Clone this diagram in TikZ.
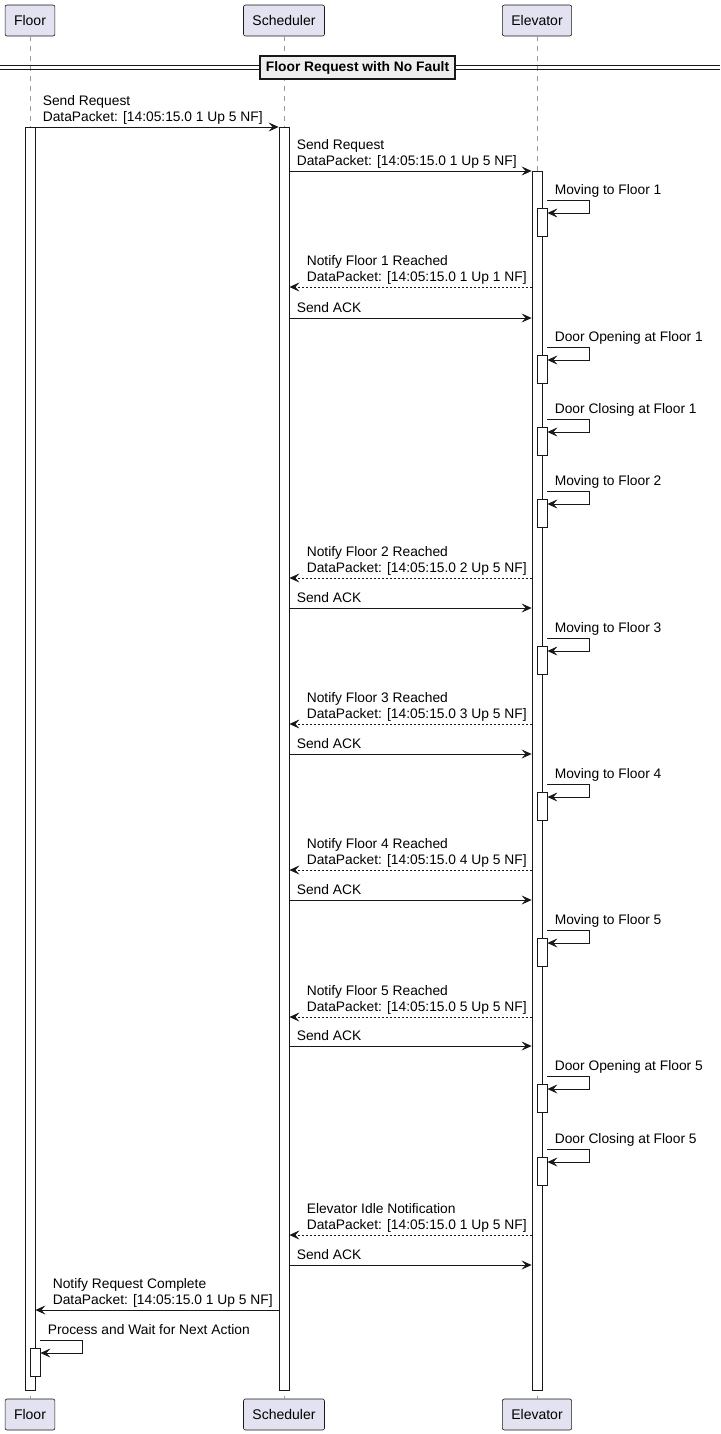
\documentclass[tikz,border=0pt]{standalone}
\usepackage{fontspec}
\setmainfont{Liberation Sans}
\usetikzlibrary{arrows.meta}
\definecolor{partfill}{HTML}{E2E2F0}
\definecolor{partline}{HTML}{181818}
\definecolor{sepfill}{HTML}{EEEEEE}

\begin{document}
\begin{tikzpicture}[x=1pt,y=-1pt,
	party/.style={draw=partline,fill=partfill,rounded corners=2pt,line width=0.6pt,minimum height=31pt,inner xsep=9pt,font=\fontsize{14}{16}\selectfont},
	life/.style={draw=gray!80,line width=0.5pt,dash pattern=on 5pt off 5pt},
	bar/.style={draw=partline,fill=white,line width=0.8pt,minimum width=10pt,inner sep=0pt,anchor=north},
	msg/.style={draw=partline,line width=0.8pt,-{Stealth[length=10pt,width=9pt,inset=4pt]}},
	reply/.style={msg,dash pattern=on 2pt off 2pt},
	txt/.style={font=\fontsize{13.8}{16}\selectfont,align=left,anchor=south west,inner sep=0pt,text depth=3pt,yshift=2.5pt}]
	\useasboundingbox (0,0) rectangle (720,1434);
	\node[party] (F) at (30,20.5) {Floor};
	\node[party] (S) at (284,20.5) {Scheduler};
	\node[party] (E) at (537,20.5) {Elevator};
	\node[party] (F2) at (30,1414.5) {Floor};
	\node[party] (S2) at (284,1414.5) {Scheduler};
	\node[party] (E2) at (537,1414.5) {Elevator};
	\draw[life] (F) -- (F2);
	\draw[life] (S) -- (S2);
	\draw[life] (E) -- (E2);
	\draw[partline,line width=0.8pt] (0,65.8) -- (720,65.8) (0,69.4) -- (720,69.4);
	\node[draw=partline,line width=1.5pt,fill=sepfill,font=\bfseries\fontsize{13.8}{15}\selectfont,minimum height=23pt,inner xsep=6pt] (grp) at (357.5,67.5) {Floor Request with No Fault};
	\node[bar,minimum height=1263pt] (aF) at (30,127) {};
	\node[bar,minimum height=1263pt] (aS) at (284,127) {};
	\node[bar,minimum height=1219pt] (aE) at (537,171) {};
	\draw[msg] (aF.east |- 0,127) -- (aS.north west) node[txt,pos=0,xshift=7pt] {Send Request\\DataPacket: [14:05:15.0 1 Up 5 NF]};
	\draw[msg] (aS.east |- 0,171) -- (aE.north west) node[txt,pos=0,xshift=7pt] {Send Request\\DataPacket: [14:05:15.0 1 Up 5 NF]};
	\foreach \y/\t [count=\i, evaluate=\y as \ya using \y+10, evaluate=\y as \yb using \y+23, evaluate=\y as \yc using \y+18] in {190/Moving to Floor 1, 337/Door Opening at Floor 1, 409/Door Closing at Floor 1, 481/Moving to Floor 2, 628/Moving to Floor 3, 774/Moving to Floor 4, 920/Moving to Floor 5, 1066/Door Opening at Floor 5, 1139/Door Closing at Floor 5}{
		\node[bar,minimum height=28pt] (n\i) at (542,\yc) {};
		\draw[msg] (n\i.east |- 0,\ya) node[txt,xshift=7pt] {\t} -- ++(42,0) |- (n\i.east |- 0,\yb);
	}
	\foreach \y/\a/\t/\d in {287/318/Notify Floor 1 Reached/1 Up 1, 578/608/Notify Floor 2 Reached/2 Up 5, 724/754/Notify Floor 3 Reached/3 Up 5, 870/900/Notify Floor 4 Reached/4 Up 5, 1017/1046/Notify Floor 5 Reached/5 Up 5, 1235/1265/Elevator Idle Notification/1 Up 5}{
		\draw[reply] (aE.west |- 0,\y) -- (aS.east |- 0,\y) node[txt,pos=1,xshift=17pt] {\t\\DataPacket: [14:05:15.0 {\d} NF]};
		\draw[msg] (aS.east |- 0,\a) -- (aE.west |- 0,\a) node[txt,pos=0,xshift=7pt] {Send ACK};
	}
	\draw[msg] (aS.west |- 0,1310) -- (aF.east |- 0,1310) node[txt,pos=1,xshift=17pt] {Notify Request Complete\\DataPacket: [14:05:15.0 1 Up 5 NF]};
	\node[bar,minimum height=28pt] (nF) at (35,1348) {};
	\draw[msg] (nF.east |- 0,1340) node[txt,xshift=7pt] {Process and Wait for Next Action} -- ++(42,0) |- (nF.east |- 0,1353);
\end{tikzpicture}
\end{document}
